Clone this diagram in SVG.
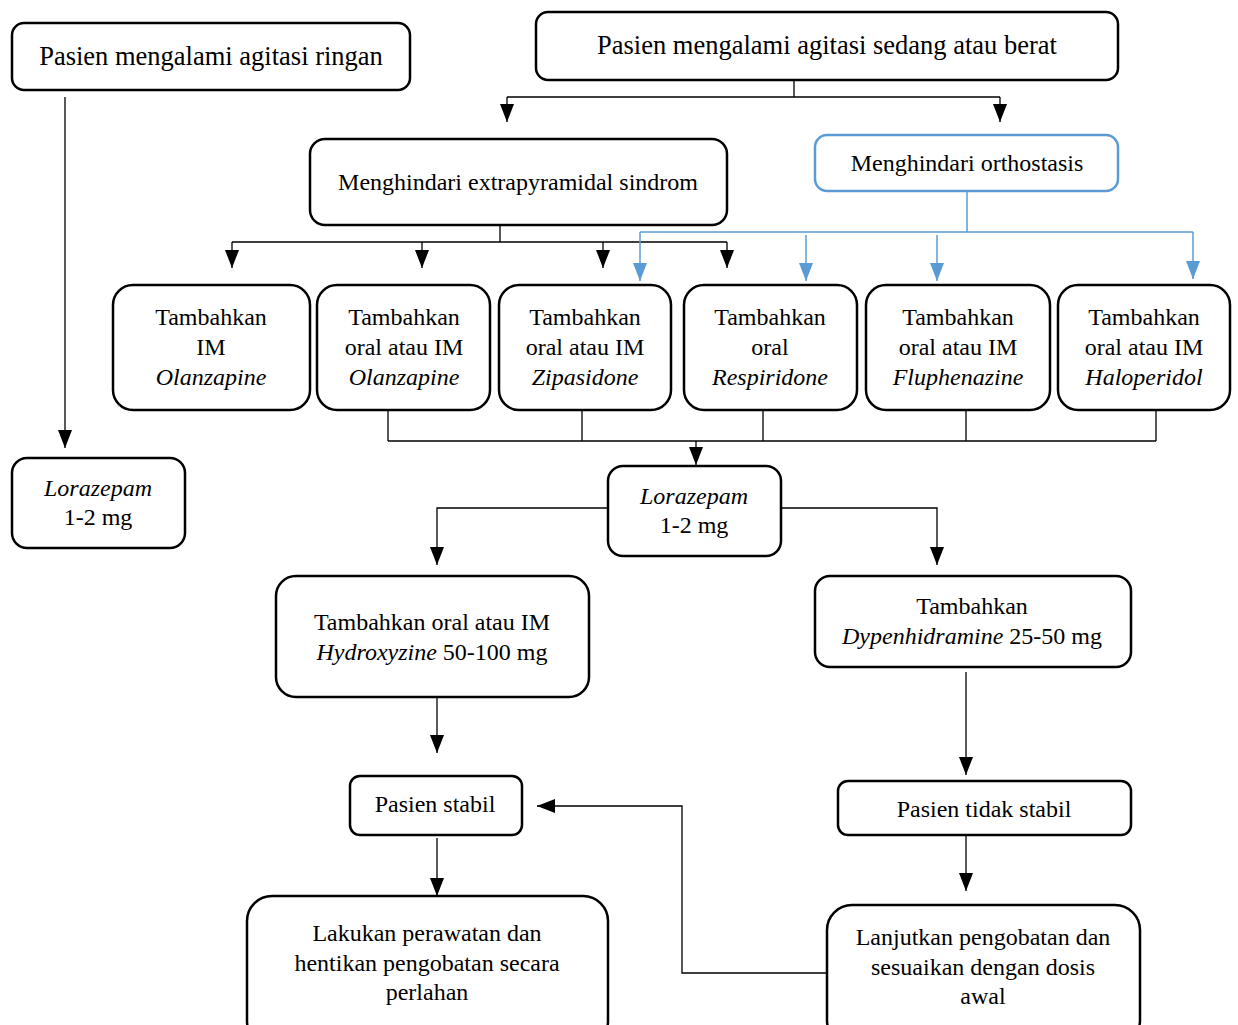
<svg xmlns="http://www.w3.org/2000/svg" width="1238" height="1025" viewBox="0 0 1238 1025" font-family="'Liberation Serif', 'Times New Roman', serif">
<style>
.box{fill:#fff;stroke:#000;stroke-width:2.5}
.blue{fill:#fff;stroke:#5b9bd5;stroke-width:2.5}
text{font-family:'Liberation Serif','Times New Roman',serif;font-size:24px;fill:#000;text-anchor:middle}
.big{font-size:26.5px}
.i{font-style:italic}
.c{fill:none;stroke:#000;stroke-width:1.3}
.cb{fill:none;stroke:#5b9bd5;stroke-width:1.5}
</style>
<defs>
<marker id="a" viewBox="0 0 18 14" refX="18" refY="7" markerWidth="18" markerHeight="14" markerUnits="userSpaceOnUse" orient="auto"><path d="M0,0 L18,7 L0,14 Z" fill="#000"/></marker>
<marker id="ab" viewBox="0 0 18 14" refX="18" refY="7" markerWidth="18" markerHeight="14" markerUnits="userSpaceOnUse" orient="auto"><path d="M0,0 L18,7 L0,14 Z" fill="#5b9bd5"/></marker>
</defs>
<g id="connectors">
<path class="c" d="M65,97 V448" marker-end="url(#a)"/>
<path class="c" d="M794,80 V97 M507,97 H1000"/>
<path class="c" d="M507,97 V122" marker-end="url(#a)"/>
<path class="c" d="M1000,97 V122" marker-end="url(#a)"/>
<path class="c" d="M500,225 V242 M232,242 H727"/>
<path class="c" d="M232,242 V268" marker-end="url(#a)"/>
<path class="c" d="M422,242 V268" marker-end="url(#a)"/>
<path class="c" d="M603,242 V268" marker-end="url(#a)"/>
<path class="c" d="M727,242 V268" marker-end="url(#a)"/>
<path class="cb" d="M967,191 V232 M640,232 H1193"/>
<path class="cb" d="M640,232 V281" marker-end="url(#ab)"/>
<path class="cb" d="M806,235 V281" marker-end="url(#ab)"/>
<path class="cb" d="M937,235 V281" marker-end="url(#ab)"/>
<path class="cb" d="M1193,232 V279" marker-end="url(#ab)"/>
<path class="c" d="M388,410 V441 M582,410 V441 M763,410 V441 M966,410 V441 M1156,410 V441 M388,441 H1156"/>
<path class="c" d="M696,441 V465" marker-end="url(#a)"/>
<path class="c" d="M608,508 H437 V565" marker-end="url(#a)"/>
<path class="c" d="M781,508 H937 V565" marker-end="url(#a)"/>
<path class="c" d="M437,697 V753" marker-end="url(#a)"/>
<path class="c" d="M966,672 V775" marker-end="url(#a)"/>
<path class="c" d="M437,838 V896" marker-end="url(#a)"/>
<path class="c" d="M966,835 V891" marker-end="url(#a)"/>
<path class="c" d="M827,973 H682 V806 H537" marker-end="url(#a)"/>
</g>
<g id="n1"><rect class="box" x="12" y="23" width="398" height="67" rx="12"/><text class="big" x="211" y="65">Pasien mengalami agitasi ringan</text></g>
<g id="n2"><rect class="box" x="536" y="12" width="582" height="68" rx="12"/><text class="big" x="827" y="54">Pasien mengalami agitasi sedang atau berat</text></g>
<g id="n3"><rect class="box" x="310" y="139" width="417" height="86" rx="15"/><text x="518" y="190">Menghindari extrapyramidal sindrom</text></g>
<g id="n4"><rect class="blue" x="815" y="135" width="303" height="56" rx="12"/><text x="967" y="171">Menghindari orthostasis</text></g>
<g id="b1"><rect class="box" x="113" y="285" width="197" height="125" rx="20"/><text x="211" y="325">Tambahkan</text><text x="211" y="355">IM</text><text class="i" x="211" y="385">Olanzapine</text></g>
<g id="b2"><rect class="box" x="317" y="285" width="173" height="125" rx="20"/><text x="404" y="325">Tambahkan</text><text x="404" y="355">oral atau IM</text><text class="i" x="404" y="385">Olanzapine</text></g>
<g id="b3"><rect class="box" x="499" y="285" width="172" height="125" rx="20"/><text x="585" y="325">Tambahkan</text><text x="585" y="355">oral atau IM</text><text class="i" x="585" y="385">Zipasidone</text></g>
<g id="b4"><rect class="box" x="684" y="285" width="173" height="125" rx="20"/><text x="770" y="325">Tambahkan</text><text x="770" y="355">oral</text><text class="i" x="770" y="385">Respiridone</text></g>
<g id="b5"><rect class="box" x="866" y="285" width="184" height="125" rx="20"/><text x="958" y="325">Tambahkan</text><text x="958" y="355">oral atau IM</text><text class="i" x="958" y="385">Fluphenazine</text></g>
<g id="b6"><rect class="box" x="1058" y="285" width="172" height="125" rx="20"/><text x="1144" y="325">Tambahkan</text><text x="1144" y="355">oral atau IM</text><text class="i" x="1144" y="385">Haloperidol</text></g>
<g id="n5"><rect class="box" x="12" y="458" width="173" height="90" rx="15"/><text class="i" x="98" y="496">Lorazepam</text><text x="98" y="525">1-2 mg</text></g>
<g id="n6"><rect class="box" x="608" y="466" width="173" height="90" rx="15"/><text class="i" x="694" y="504">Lorazepam</text><text x="694" y="533">1-2 mg</text></g>
<g id="n7"><rect class="box" x="276" y="576" width="313" height="121" rx="20"/><text x="432" y="630">Tambahkan oral atau IM</text><text x="432" y="660"><tspan class="i">Hydroxyzine</tspan> 50-100 mg</text></g>
<g id="n8"><rect class="box" x="815" y="576" width="316" height="91" rx="15"/><text x="972" y="614">Tambahkan</text><text x="972" y="644"><tspan class="i">Dypenhidramine</tspan> 25-50 mg</text></g>
<g id="n9"><rect class="box" x="350" y="776" width="172" height="59" rx="10"/><text x="435" y="812">Pasien stabil</text></g>
<g id="n10"><rect class="box" x="838" y="781" width="293" height="54" rx="10"/><text x="984" y="817">Pasien tidak stabil</text></g>
<g id="n11"><rect class="box" x="247" y="896" width="361" height="150" rx="25"/><text x="427" y="941">Lakukan perawatan dan</text><text x="427" y="971">hentikan pengobatan secara</text><text x="427" y="1000">perlahan</text></g>
<g id="n12"><rect class="box" x="827" y="905" width="313" height="140" rx="25"/><text x="983" y="945">Lanjutkan pengobatan dan</text><text x="983" y="975">sesuaikan dengan dosis</text><text x="983" y="1004">awal</text></g>
</svg>
